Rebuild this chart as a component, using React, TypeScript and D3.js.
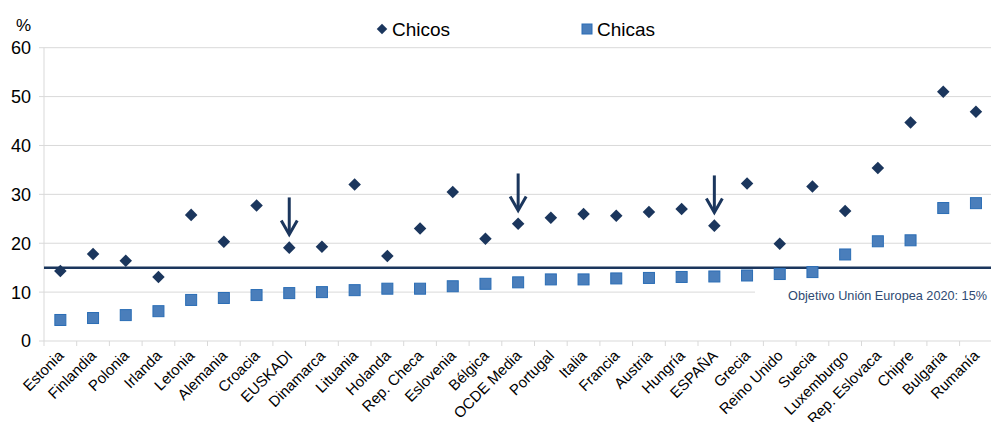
import React from "react";
import * as d3 from "d3";

const categories = ["Estonia","Finlandia","Polonia","Irlanda","Letonia","Alemania","Croacia","EUSKADI","Dinamarca","Lituania","Holanda","Rep. Checa","Eslovenia","Bélgica","OCDE Media","Portugal","Italia","Francia","Austria","Hungría","ESPAÑA","Grecia","Reino Unido","Suecia","Luxemburgo","Rep. Eslovaca","Chipre","Bulgaria","Rumanía"];
const chicos = [14.3,17.8,16.4,13.1,25.8,20.3,27.7,19.1,19.3,32.0,17.4,23.0,30.5,20.9,24.0,25.2,26.0,25.6,26.4,27.0,23.6,32.2,19.9,31.6,26.6,35.4,44.7,51.0,46.9];
const chicas = [4.3,4.7,5.3,6.1,8.4,8.8,9.4,9.8,10.0,10.4,10.7,10.7,11.2,11.7,12.0,12.6,12.6,12.8,12.9,13.1,13.2,13.4,13.7,14.1,17.7,20.4,20.6,27.2,28.2];
const yTicks = [0,10,20,30,40,50,60];
const target = 15;
const targetLabel = "Objetivo Unión Europea 2020: 15%";
const arrowCats = ["EUSKADI","OCDE Media","ESPAÑA"];
const seriesNames = ["Chicos","Chicas"];

const W = 991, H = 422;
const left = 44, right = 992.3, top = 47.7, bottom = 341;
const navy = "#1b365d";
const sqFill = "#4a7ebb";
const sqStroke = "#2a6db5";
const grid = "#d9d9d9";
const font = "'Liberation Sans', Arial, sans-serif";

export default function App() {
  const x = d3.scaleBand<string>().domain(categories).range([left, right]).paddingInner(0).paddingOuter(0);
  const y = d3.scaleLinear().domain([0, 60]).range([bottom, top]);
  const bw = x.bandwidth();
  const cx = (c: string) => (x(c) as number) + bw / 2;
  const diamond = d3.symbol().type(d3.symbolDiamond2).size(100)();
  const boundaries = d3.range(categories.length + 1).map(i => left + i * bw);

  return (
    <svg width={W} height={H} style={{ position: "absolute", left: 0, top: 0, background: "#fff" }} fontFamily={font}>
      {yTicks.filter(t => t > 0).map(t => (
        <line key={t} x1={left} x2={W} y1={y(t)} y2={y(t)} stroke={grid} strokeWidth={1} />
      ))}
      <line x1={left} x2={left} y1={top} y2={bottom} stroke={grid} strokeWidth={1} />
      {yTicks.map(t => (
        <g key={t}>
          <line x1={left - 5} x2={left} y1={y(t)} y2={y(t)} stroke={grid} />
          <text x={31} y={y(t)} dy="0.36em" textAnchor="end" fontSize={18} fill="#000">{t}</text>
        </g>
      ))}
      <text x={16} y={25} dy="0.36em" fontSize={17} fill="#000">%</text>
      <line x1={left} x2={W} y1={bottom} y2={bottom} stroke={grid} />
      {boundaries.map((b, i) => (
        <line key={i} x1={b} x2={b} y1={bottom} y2={bottom + 5} stroke={grid} />
      ))}
      {categories.map(c => (
        <text key={c} transform={`translate(${cx(c) + 0.5},${bottom + 12}) rotate(-45)`} textAnchor="end" dy="0.35em" fontSize={15} fill="#000">{c}</text>
      ))}
      <rect x={755} y={y(target) + 16} width={W - 755} height={22} fill="#fff" />
      <text x={987} y={y(10) + 8} textAnchor="end" fontSize={12.7} fill="#2e4a72">{targetLabel}</text>
      <line x1={left} x2={W} y1={y(target)} y2={y(target)} stroke={navy} strokeWidth={2.5} />
      {categories.map((c, i) => (
        <rect key={c} x={cx(c) - 5.5} y={y(chicas[i]) - 5.5} width={11} height={11} fill={sqFill} stroke={sqStroke} strokeWidth={1} />
      ))}
      {categories.map((c, i) => (
        <path key={c} d={diamond as string} transform={`translate(${cx(c)},${y(chicos[i])})`} fill={navy} />
      ))}
      {arrowCats.map(c => {
        const i = categories.indexOf(c);
        const xx = cx(c);
        const tip = y(chicos[i] + 2.7);
        const tail = tip - 37;
        return (
          <g key={c} stroke={navy} strokeWidth={3} fill="none" strokeLinecap="butt">
            <line x1={xx} x2={xx} y1={tail} y2={tip - 1} />
            <polyline points={`${xx - 8},${tip - 14} ${xx},${tip} ${xx + 8},${tip - 14}`} strokeLinejoin="miter" />
          </g>
        );
      })}
      <path d={d3.symbol().type(d3.symbolDiamond2).size(70)() as string} transform="translate(382,29)" fill={navy} />
      <text x={392} y={29} dy="0.36em" fontSize={19} fill="#000">{seriesNames[0]}</text>
      <rect x={582} y={24} width={10} height={10} fill={sqFill} stroke={sqStroke} />
      <text x={597} y={29} dy="0.36em" fontSize={19} fill="#000">{seriesNames[1]}</text>
    </svg>
  );
}
